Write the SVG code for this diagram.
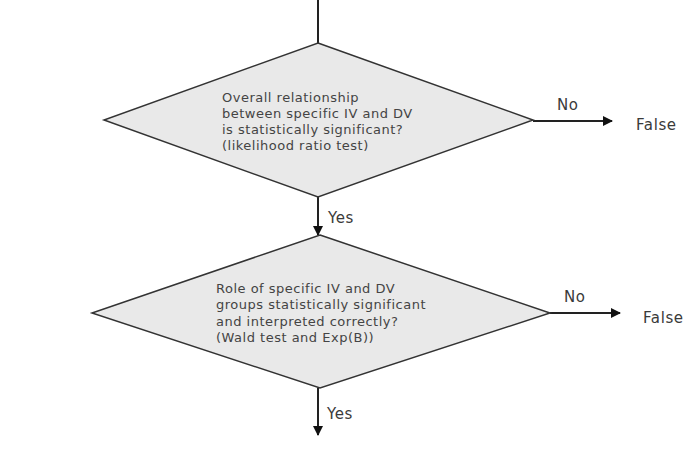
<svg xmlns="http://www.w3.org/2000/svg" width="697" height="458" viewBox="0 0 697 458">
<style>
.d{fill:#e9e9e9;stroke:#333;stroke-width:1.5}
.c{stroke:#222;stroke-width:2;fill:none}
.t{font-family:"DejaVu Sans",Verdana,sans-serif;font-size:13px;letter-spacing:0.5px;fill:#444}
.l{font-family:"DejaVu Sans",Verdana,sans-serif;font-size:15px;letter-spacing:0.6px;fill:#3a3a3a}
</style>
<defs>
<marker id="a" viewBox="0 0 10 10" refX="9" refY="5" markerWidth="5" markerHeight="5" orient="auto" markerUnits="strokeWidth">
<path d="M0,0L10,5L0,10z" fill="#111"/>
</marker>
</defs>
<rect width="697" height="458" fill="#fff"/>
<g id="connectors">
<line class="c" x1="318" y1="0" x2="318" y2="43"/>
<line class="c" x1="318" y1="197" x2="318" y2="235" marker-end="url(#a)"/>
<line class="c" x1="533" y1="121" x2="612" y2="121" marker-end="url(#a)"/>
<line class="c" x1="550" y1="313" x2="620" y2="313" marker-end="url(#a)"/>
<line class="c" x1="318" y1="388" x2="318" y2="435" marker-end="url(#a)"/>
<text class="l" x="328" y="223">Yes</text>
<text class="l" x="557" y="110">No</text>
<text class="l" x="636" y="130">False</text>
<text class="l" x="564" y="302">No</text>
<text class="l" x="643" y="323">False</text>
<text class="l" x="327" y="419">Yes</text>
</g>
<g id="decision1">
<polygon class="d" points="318,43 533,120 318,197 104,120"/>
<text class="t" x="222" y="102">Overall relationship</text>
<text class="t" x="222" y="118">between specific IV and DV</text>
<text class="t" x="222" y="134">is statistically significant?</text>
<text class="t" x="222" y="150">(likelihood ratio test)</text>
</g>
<g id="decision2">
<polygon class="d" points="320,235 550,313 320,388 92,313"/>
<text class="t" x="216" y="293">Role of specific IV and DV</text>
<text class="t" x="216" y="309">groups statistically significant</text>
<text class="t" x="216" y="326">and interpreted correctly?</text>
<text class="t" x="216" y="342">(Wald test and Exp(B))</text>
</g>
</svg>
